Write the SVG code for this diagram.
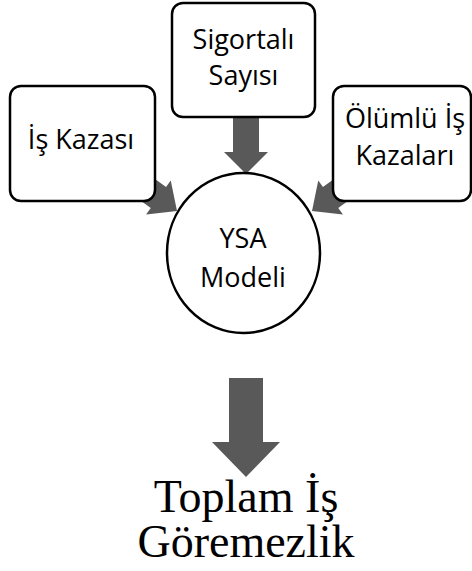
<svg xmlns="http://www.w3.org/2000/svg" width="472" height="571" viewBox="0 0 472 571">
  <style>
    .box { fill: #ffffff; stroke: #000000; stroke-width: 2.5; }
    .arrow { fill: #595959; stroke: none; }
    .lbl { font-family: "Open Sans", "Noto Sans", "Liberation Sans", sans-serif; font-size: 27px; fill: #000000; text-anchor: middle; }
    .out { font-family: "Liberation Serif", "Times New Roman", serif; font-size: 46px; fill: #000000; text-anchor: middle; }
  </style>
  <rect width="472" height="571" fill="#ffffff"/>

  <g id="connectors">
    <!-- Sigortalı Sayısı -> YSA Modeli -->
    <polygon class="arrow" points="233,117 259,117 259,152 268,152 246,174 224,152 233,152"/>
    <!-- İş Kazası -> YSA Modeli (block arrow running down-right) -->
    <polygon class="arrow" transform="translate(177,211) rotate(36)" points="-80,-13 -23,-13 -23,-21 0,0 -23,21 -23,13 -80,13"/>
    <!-- Ölümlü İş Kazaları -> YSA Modeli (mirror of the left arrow) -->
    <polygon class="arrow" transform="translate(312,211) rotate(144)" points="-80,-13 -23,-13 -23,-21 0,0 -23,21 -23,13 -80,13"/>
    <!-- YSA Modeli -> Toplam İş Göremezlik -->
    <polygon class="arrow" points="229,378 263,378 263,442 280,442 246,477 212,442 229,442"/>
  </g>

  <g id="node-sigortali">
    <rect class="box" x="172" y="3" width="143" height="114" rx="11"/>
    <text class="lbl" x="243.5" y="49">Sigortalı</text>
    <text class="lbl" x="243.5" y="85">Sayısı</text>
  </g>

  <g id="node-is-kazasi">
    <rect class="box" x="10" y="86" width="145" height="115" rx="11"/>
    <text class="lbl" x="81" y="149">İş Kazası</text>
  </g>

  <g id="node-olumlu">
    <rect class="box" x="333" y="86" width="138" height="115" rx="11"/>
    <text class="lbl" x="405" y="128">Ölümlü İş</text>
    <text class="lbl" x="405" y="165">Kazaları</text>
  </g>

  <g id="node-ysa">
    <ellipse class="box" cx="243.5" cy="253" rx="76.5" ry="80"/>
    <text class="lbl" x="243" y="248">YSA</text>
    <text class="lbl" x="243" y="287">Modeli</text>
  </g>

  <g id="node-output">
    <text class="out" x="246" y="512">Toplam İş</text>
    <text class="out" x="246" y="557">Göremezlik</text>
  </g>
</svg>
